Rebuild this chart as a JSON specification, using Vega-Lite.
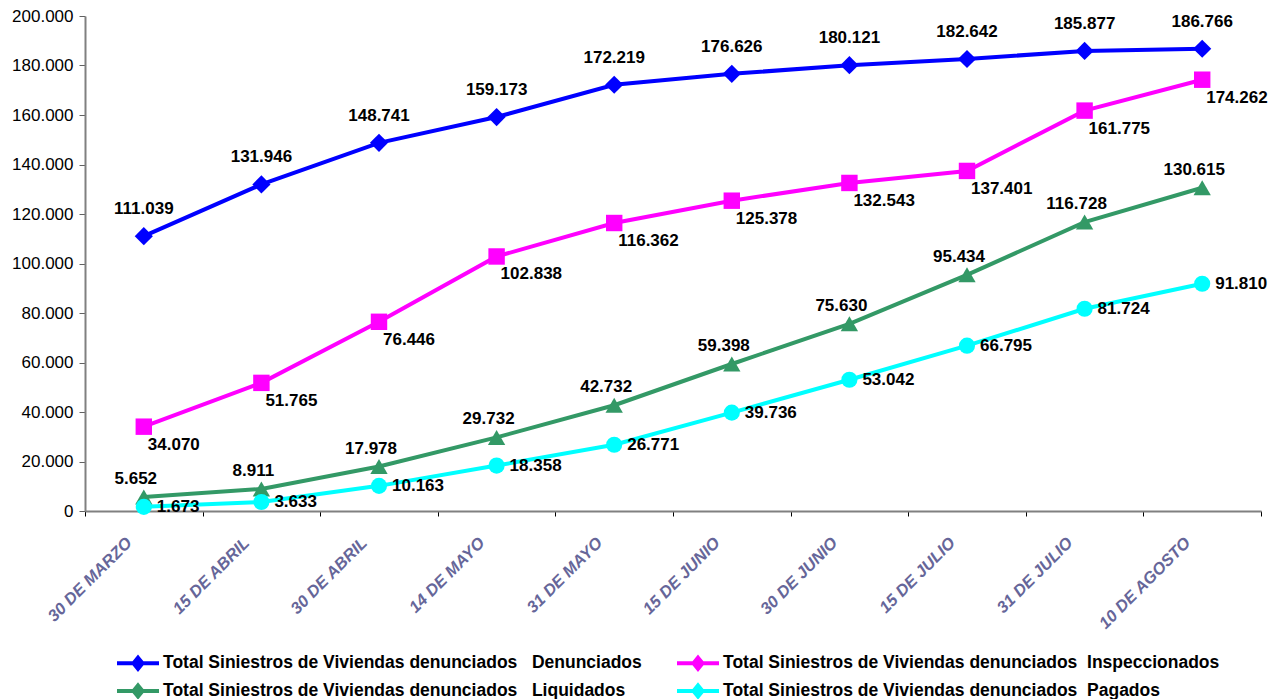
{
  "$schema": "https://vega.github.io/schema/vega-lite/v6.json",
  "width": 1176,
  "height": 495,
  "autosize": {"type": "none"},
  "padding": {"left": 85, "top": 16, "right": 17, "bottom": 188},
  "background": "white",
  "config": {
    "locale": {"number": {"decimal": ",", "thousands": ".", "grouping": [3], "currency": ["", " €"]}},
    "view": {"stroke": null},
    "font": "Liberation Sans"
  },
  "data": {
    "values": [
      {"fecha": "30 DE MARZO", "serie": "Denunciados", "valor": 111039},
      {"fecha": "15 DE ABRIL", "serie": "Denunciados", "valor": 131946},
      {"fecha": "30 DE ABRIL", "serie": "Denunciados", "valor": 148741},
      {"fecha": "14 DE MAYO", "serie": "Denunciados", "valor": 159173},
      {"fecha": "31 DE MAYO", "serie": "Denunciados", "valor": 172219},
      {"fecha": "15 DE JUNIO", "serie": "Denunciados", "valor": 176626},
      {"fecha": "30 DE JUNIO", "serie": "Denunciados", "valor": 180121},
      {"fecha": "15 DE JULIO", "serie": "Denunciados", "valor": 182642},
      {"fecha": "31 DE JULIO", "serie": "Denunciados", "valor": 185877},
      {"fecha": "10 DE AGOSTO", "serie": "Denunciados", "valor": 186766},
      {"fecha": "30 DE MARZO", "serie": "Inspeccionados", "valor": 34070},
      {"fecha": "15 DE ABRIL", "serie": "Inspeccionados", "valor": 51765},
      {"fecha": "30 DE ABRIL", "serie": "Inspeccionados", "valor": 76446},
      {"fecha": "14 DE MAYO", "serie": "Inspeccionados", "valor": 102838},
      {"fecha": "31 DE MAYO", "serie": "Inspeccionados", "valor": 116362},
      {"fecha": "15 DE JUNIO", "serie": "Inspeccionados", "valor": 125378},
      {"fecha": "30 DE JUNIO", "serie": "Inspeccionados", "valor": 132543},
      {"fecha": "15 DE JULIO", "serie": "Inspeccionados", "valor": 137401},
      {"fecha": "31 DE JULIO", "serie": "Inspeccionados", "valor": 161775},
      {"fecha": "10 DE AGOSTO", "serie": "Inspeccionados", "valor": 174262},
      {"fecha": "30 DE MARZO", "serie": "Liquidados", "valor": 5652},
      {"fecha": "15 DE ABRIL", "serie": "Liquidados", "valor": 8911},
      {"fecha": "30 DE ABRIL", "serie": "Liquidados", "valor": 17978},
      {"fecha": "14 DE MAYO", "serie": "Liquidados", "valor": 29732},
      {"fecha": "31 DE MAYO", "serie": "Liquidados", "valor": 42732},
      {"fecha": "15 DE JUNIO", "serie": "Liquidados", "valor": 59398},
      {"fecha": "30 DE JUNIO", "serie": "Liquidados", "valor": 75630},
      {"fecha": "15 DE JULIO", "serie": "Liquidados", "valor": 95434},
      {"fecha": "31 DE JULIO", "serie": "Liquidados", "valor": 116728},
      {"fecha": "10 DE AGOSTO", "serie": "Liquidados", "valor": 130615},
      {"fecha": "30 DE MARZO", "serie": "Pagados", "valor": 1673},
      {"fecha": "15 DE ABRIL", "serie": "Pagados", "valor": 3633},
      {"fecha": "30 DE ABRIL", "serie": "Pagados", "valor": 10163},
      {"fecha": "14 DE MAYO", "serie": "Pagados", "valor": 18358},
      {"fecha": "31 DE MAYO", "serie": "Pagados", "valor": 26771},
      {"fecha": "15 DE JUNIO", "serie": "Pagados", "valor": 39736},
      {"fecha": "30 DE JUNIO", "serie": "Pagados", "valor": 53042},
      {"fecha": "15 DE JULIO", "serie": "Pagados", "valor": 66795},
      {"fecha": "31 DE JULIO", "serie": "Pagados", "valor": 81724},
      {"fecha": "10 DE AGOSTO", "serie": "Pagados", "valor": 91810}
    ]
  },
  "encoding": {
    "x": {
      "field": "fecha",
      "type": "nominal",
      "sort": null,
      "scale": {"type": "band", "paddingInner": 0, "paddingOuter": 0},
      "axis": {
        "title": null,
        "tickBand": "extent",
        "domainColor": "#808080",
        "domainWidth": 2,
        "tickColor": "#000000",
        "tickSize": 5,
        "labelAngle": -45,
        "labelAlign": "right",
        "labelBaseline": "middle",
        "labelFont": "Liberation Sans",
        "labelFontSize": 16.5,
        "labelFontWeight": "bold",
        "labelFontStyle": "italic",
        "labelColor": "#666699",
        "labelPadding": 24,
        "labelOffset": -15,
        "labelOverlap": false,
        "labelBound": false
      }
    },
    "y": {
      "field": "valor",
      "type": "quantitative",
      "scale": {"domain": [0, 200000], "nice": false},
      "axis": {
        "title": null,
        "grid": false,
        "values": [0, 20000, 40000, 60000, 80000, 100000, 120000, 140000, 160000, 180000, 200000],
        "format": ",.0f",
        "domainColor": "#808080",
        "domainWidth": 2,
        "tickColor": "#606060",
        "tickWidth": 1,
        "tickSize": 6,
        "labelFont": "Liberation Sans",
        "labelFontSize": 17,
        "labelColor": "#000000",
        "labelPadding": 6
      }
    },
    "color": {
      "field": "serie",
      "type": "nominal",
      "sort": ["Denunciados", "Inspeccionados", "Liquidados", "Pagados"],
      "scale": {
        "domain": ["Denunciados", "Inspeccionados", "Liquidados", "Pagados"],
        "range": ["#0000ff", "#ff00ff", "#339966", "#00ffff"]
      },
      "legend": {
        "title": null,
        "orient": "none",
        "legendX": 41,
        "legendY": 635,
        "columns": 2,
        "direction": "horizontal",
        "columnPadding": 27,
        "rowPadding": 0,
        "symbolType": "M-2.1,0L2.1,0M0,-0.55L0.45,0L0,0.55L-0.45,0Z",
        "symbolSize": 400,
        "symbolStrokeWidth": 4,
        "labelFont": "Liberation Sans",
        "labelFontSize": 17.5,
        "labelFontWeight": "bold",
        "labelColor": "#000000",
        "labelLimit": 700,
        "labelOffset": 13,
        "labelExpr": "'Total Siniestros de Viviendas denunciados' + ((datum.label == 'Denunciados' || datum.label == 'Liquidados') ? ' \u00a0\u00a0' : ' \u00a0') + datum.label",
        "encode": {
          "symbols": {
            "update": {
              "fill": {"scale": "color", "field": "value"},
              "stroke": {"scale": "color", "field": "value"},
              "opacity": {"value": 1}
            }
          }
        }
      }
    }
  },
  "layer": [
    {"mark": {"type": "line", "strokeWidth": 4}, "encoding": {}},
    {
      "transform": [{"filter": "datum.serie == 'Denunciados'"}],
      "mark": {"type": "point", "filled": true, "opacity": 1, "shape": "diamond", "size": 330},
      "encoding": {}
    },
    {
      "transform": [{"filter": "datum.serie == 'Inspeccionados'"}],
      "mark": {"type": "point", "filled": true, "opacity": 1, "shape": "square", "size": 270},
      "encoding": {}
    },
    {
      "transform": [{"filter": "datum.serie == 'Liquidados'"}],
      "mark": {"type": "point", "filled": true, "opacity": 1, "shape": "triangle-up", "size": 300},
      "encoding": {}
    },
    {
      "transform": [{"filter": "datum.serie == 'Pagados'"}],
      "mark": {"type": "point", "filled": true, "opacity": 1, "shape": "circle", "size": 260},
      "encoding": {}
    },
    {
      "transform": [{"filter": "datum.serie == 'Denunciados'"}],
      "mark": {"type": "text", "font": "Liberation Sans", "fontSize": 17, "fontWeight": "bold", "align": "center", "baseline": "middle", "dy": -27},
      "encoding": {"text": {"field": "valor", "type": "quantitative", "format": ",.0f"}, "color": {"value": "#000000"}}
    },
    {
      "transform": [{"filter": "datum.serie == 'Inspeccionados'"}],
      "mark": {"type": "text", "font": "Liberation Sans", "fontSize": 17, "fontWeight": "bold", "align": "left", "baseline": "middle", "dx": 4, "dy": 18},
      "encoding": {"text": {"field": "valor", "type": "quantitative", "format": ",.0f"}, "color": {"value": "#000000"}}
    },
    {
      "transform": [{"filter": "datum.serie == 'Liquidados'"}],
      "mark": {"type": "text", "font": "Liberation Sans", "fontSize": 17, "fontWeight": "bold", "align": "center", "baseline": "middle", "dx": -8, "dy": -18},
      "encoding": {"text": {"field": "valor", "type": "quantitative", "format": ",.0f"}, "color": {"value": "#000000"}}
    },
    {
      "transform": [{"filter": "datum.serie == 'Pagados'"}],
      "mark": {"type": "text", "font": "Liberation Sans", "fontSize": 17, "fontWeight": "bold", "align": "left", "baseline": "middle", "dx": 13, "dy": 0},
      "encoding": {"text": {"field": "valor", "type": "quantitative", "format": ",.0f"}, "color": {"value": "#000000"}}
    }
  ]
}
